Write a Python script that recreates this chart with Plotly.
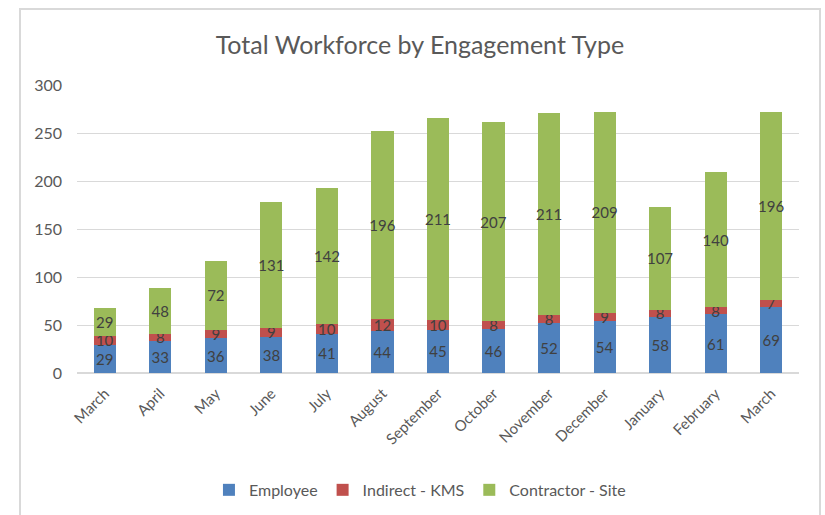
import plotly.graph_objects as go

months = ["March", "April", "May", "June", "July", "August", "September",
          "October", "November", "December", "January", "February", "March"]
employee = [29, 33, 36, 38, 41, 44, 45, 46, 52, 54, 58, 61, 69]
indirect = [10, 8, 9, 9, 10, 12, 10, 8, 8, 9, 8, 8, 7]
contractor = [29, 48, 72, 131, 142, 196, 211, 207, 211, 209, 107, 140, 196]
series_names = ["Employee", "Indirect - KMS", "Contractor - Site"]
colors = ["#4F81BD", "#C0504D", "#9BBB59"]

x = list(range(len(months)))
FONT = "Lato, Open Sans, sans-serif"

fig = go.Figure()
for name, vals, col in zip(series_names, [employee, indirect, contractor], colors):
    fig.add_trace(go.Bar(
        x=x, y=vals, name=name, marker=dict(color=col, line=dict(width=0)),
        text=[str(v) for v in vals], textposition="inside", textangle=0,
        insidetextanchor="middle", constraintext="none",
        textfont=dict(family=FONT, size=15, color="#404040"),
    ))

fig.update_layout(
    barmode="stack", bargap=0.6,
    width=825, height=515,
    margin=dict(l=77, r=26, t=85, b=142, autoexpand=False),
    paper_bgcolor="white", plot_bgcolor="white",
    font=dict(family=FONT, color="#595959"),
    uniformtext=dict(minsize=15, mode="show"),
    title=dict(text="Total Workforce by Engagement Type", x=0.509, y=1 - 45 / 515,
               xanchor="center", yanchor="middle", yref="container",
               font=dict(family=FONT, size=25, color="#595959")),
    legend=dict(orientation="h", x=0.475, y=-0.406, xanchor="center", yanchor="middle",
                font=dict(family=FONT, size=16, color="#595959"), traceorder="normal",
                itemwidth=30),
    showlegend=True,
)
fig.update_xaxes(tickmode="array", tickvals=x, ticktext=months, tickangle=-45,
                 range=[-0.5, len(months) - 0.5], showgrid=False, showline=False,
                 tickfont=dict(family=FONT, size=15, color="#595959"), ticks="",
                 ticklabelstandoff=8, automargin=False)
fig.update_yaxes(range=[0, 300], dtick=50, showgrid=True, gridcolor="#D9D9D9",
                 gridwidth=1, zeroline=True, zerolinecolor="#D9D9D9", showline=False,
                 tickfont=dict(family=FONT, size=16, color="#595959"), ticks="",
                 ticklabelstandoff=14, automargin=False)
fig.add_shape(type="rect", xref="paper", yref="paper",
              x0=(20 - 77) / 722, x1=(820 - 77) / 722,
              y0=(373 - 530) / 288, y1=(373 - 9) / 288,
              line=dict(color="#D9D9D9", width=2), layer="below")

fig.write_html("out.html")
